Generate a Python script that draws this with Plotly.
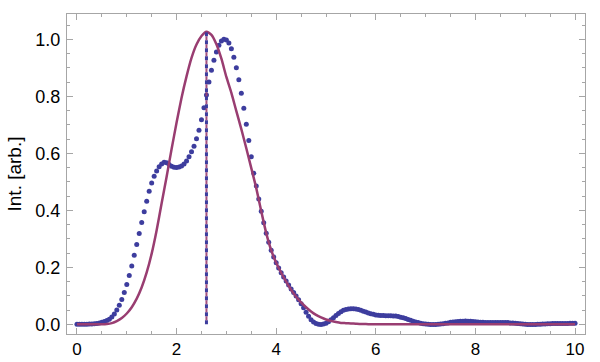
import plotly.graph_objects as go

# Measured intensity (blue dots), sampled every 0.05 starting at 0
BLUE_X0 = 0.0
BLUE_DX = 0.05
BLUE_Y = [
    0.000, 0.000, 0.000, 0.000, 0.000, 0.001, 0.001, 0.002, 0.003, 0.005,
    0.007, 0.010, 0.013, 0.018, 0.026, 0.036, 0.050, 0.067, 0.087, 0.112,
    0.140, 0.171, 0.205, 0.242, 0.280, 0.319, 0.357, 0.395, 0.432, 0.467,
    0.496, 0.520, 0.538, 0.553, 0.563, 0.569, 0.567, 0.561, 0.555, 0.551,
    0.550, 0.552, 0.556, 0.563, 0.573, 0.588, 0.606, 0.625, 0.651, 0.681,
    0.718, 0.760, 0.805, 0.850, 0.892, 0.927, 0.956, 0.979, 0.994, 1.000,
    0.998, 0.987, 0.967, 0.937, 0.900, 0.858, 0.811, 0.758, 0.702, 0.645,
    0.588, 0.530, 0.485, 0.440, 0.397, 0.356, 0.320, 0.288, 0.260, 0.236,
    0.216, 0.198, 0.181, 0.166, 0.152, 0.138, 0.124, 0.112, 0.099, 0.086,
    0.072, 0.058, 0.042, 0.028, 0.016, 0.008, 0.003, 0.000, -0.001, 0.001,
    0.004, 0.009, 0.016, 0.023, 0.031, 0.038, 0.044, 0.049, 0.052, 0.054,
    0.055, 0.055, 0.054, 0.052, 0.049, 0.046, 0.043, 0.040, 0.037, 0.035,
    0.033, 0.032, 0.031, 0.031, 0.030, 0.030, 0.030, 0.029, 0.029, 0.027,
    0.025, 0.023, 0.020, 0.017, 0.014, 0.011, 0.008, 0.006, 0.004, 0.002,
    0.001, 0.000, -0.001, -0.001, -0.001, 0.000, 0.001, 0.002, 0.004, 0.005,
    0.007, 0.008, 0.009, 0.010, 0.011, 0.011, 0.012, 0.011, 0.011, 0.010,
    0.009, 0.008, 0.007, 0.007, 0.006, 0.006, 0.006, 0.006, 0.006, 0.006,
    0.006, 0.006, 0.006, 0.006, 0.005, 0.005, 0.004, 0.003, 0.002, 0.001,
    0.000, -0.001, -0.001, -0.001, -0.001, 0.000, 0.000, 0.001, 0.001, 0.002,
    0.002, 0.003, 0.003, 0.003, 0.003, 0.003, 0.003, 0.003, 0.004, 0.004,
    0.004,
]

# Fitted curve (red line), sampled every 0.1 starting at 0
FIT_X0 = 0.0
FIT_DX = 0.1
FIT_Y = [
    0.000, 0.000, 0.000, 0.000, 0.000, 0.000, 0.001, 0.004, 0.011, 0.022,
    0.038, 0.060, 0.090, 0.130, 0.182, 0.248, 0.330, 0.425, 0.518, 0.615,
    0.708, 0.795, 0.870, 0.935, 0.982, 1.012, 1.027, 1.016, 0.983, 0.932,
    0.868, 0.812, 0.748, 0.685, 0.618, 0.548, 0.478, 0.397, 0.320, 0.260,
    0.216, 0.181, 0.150, 0.121, 0.097, 0.077, 0.060, 0.045, 0.033, 0.024,
    0.017, 0.012, 0.008, 0.005, 0.004, 0.003, 0.002, 0.001, 0.001, 0.000,
    0.000, 0.000, 0.000, 0.000, 0.000, 0.000, 0.000, 0.000, 0.000, 0.000,
    0.000, 0.000, 0.000, 0.000, 0.000, 0.000, 0.000, 0.000, 0.000, 0.000,
    0.000, 0.000, 0.000, 0.000, 0.000, 0.000, 0.000, 0.000, 0.000, 0.000,
    0.000, 0.000, 0.000, 0.000, 0.000, 0.000, 0.000, 0.000, 0.000, 0.000,
    0.000,
]

# Vertical marker at the fit centre
VLINE_X = [2.6, 2.6]
VLINE_Y = [0.0, 1.027]

X_TICKS = [0, 2, 4, 6, 8, 10]
Y_TICKS = [0.0, 0.2, 0.4, 0.6, 0.8, 1.0]
Y_LABEL = "Int. [arb.]"

BLUE = "#3d3d9e"
RED = "#993d71"
FRAME = "#a6a6a6"
FONT = "Liberation Sans"

fig = go.Figure()

fig.add_trace(go.Scatter(
    y=BLUE_Y, x0=BLUE_X0, dx=BLUE_DX, mode="markers",
    marker=dict(color=BLUE, size=5, line=dict(width=0)),
    showlegend=False, hoverinfo="skip",
))
fig.add_trace(go.Scatter(
    y=FIT_Y, x0=FIT_X0, dx=FIT_DX, mode="lines",
    line=dict(color=RED, width=2.5, shape="spline", smoothing=0.6),
    showlegend=False, hoverinfo="skip",
))
fig.add_trace(go.Scatter(
    x=VLINE_X, y=VLINE_Y, mode="lines",
    line=dict(color=BLUE, width=3, dash="4px,4px"),
    showlegend=False, hoverinfo="skip",
))
fig.add_trace(go.Scatter(
    x=VLINE_X, y=VLINE_Y, mode="lines",
    line=dict(color=RED, width=2, dash="0px,4px,4px,0px"),
    opacity=0.9,
    showlegend=False, hoverinfo="skip",
))

axis_common = dict(
    showline=True, linecolor=FRAME, linewidth=1, mirror="allticks",
    ticks="inside", ticklen=6, tickcolor=FRAME, tickwidth=1,
    showgrid=False, zeroline=False, automargin=False,
)

fig.update_xaxes(
    range=[-0.2, 10.2], tickvals=X_TICKS, ticklabelstandoff=0,
    tickfont=dict(family=FONT, size=17, color="black"),
    minor=dict(ticks="inside", ticklen=3, dtick=0.5, tick0=0, tickcolor=FRAME, showgrid=False),
    **axis_common,
)
fig.update_yaxes(
    range=[-0.034, 1.089], tickvals=Y_TICKS, tickformat=".1f", ticklabelstandoff=2,
    tickfont=dict(family=FONT, size=18, color="black"),
    minor=dict(ticks="inside", ticklen=3, dtick=0.05, tick0=0, tickcolor=FRAME, showgrid=False),
    title=dict(text=Y_LABEL, font=dict(family=FONT, size=19, color="black"), standoff=8),
    **axis_common,
)

fig.update_layout(
    width=600, height=362,
    margin=dict(l=67, r=15, t=14, b=28, pad=0),
    plot_bgcolor="white", paper_bgcolor="white",
    showlegend=False,
)

fig.write_html("out.html")
